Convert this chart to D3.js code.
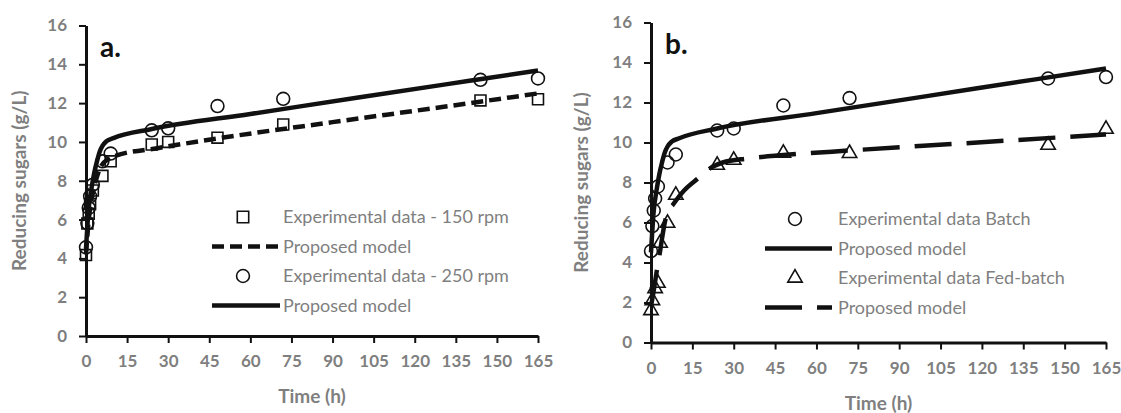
<!DOCTYPE html>
<html>
<head>
<meta charset="utf-8">
<script src="https://cdn.jsdelivr.net/npm/d3@7"></script>
<style>
  body { margin: 0; background: #fff; }
  svg { display: block; font-family: Lato, "Open Sans", sans-serif; }
  .tick text { fill: #7f7f7f; font-weight: bold; font-size: 17px; }
  .axis-title { fill: #7f7f7f; font-weight: bold; font-size: 19px; }
  .leg { fill: #7f7f7f; font-size: 18px; }
</style>
</head>
<body>
<svg id="chart" width="1121" height="413"></svg>
<script>
// x ticks and y ticks shared by both panels
var xTicks = [0, 15, 30, 45, 60, 75, 90, 105, 120, 135, 150, 165];
var yTicks = [0, 2, 4, 6, 8, 10, 12, 14, 16];

// panel a: experimental points
var timeA = [0, 0.5, 1, 1.5, 2.5, 6, 9, 24, 30, 48, 72, 144, 165];
var rpm150 = [4.17, 5.8, 6.3, 6.8, 7.5, 8.25, 9.0, 9.87, 10.0, 10.22, 10.9, 12.14, 12.2];
var rpm250 = [4.57, 5.82, 6.6, 7.2, 7.8, 9.0, 9.4, 10.6, 10.7, 11.85, 12.22, 13.2, 13.27];

// panel a: model curves (time, value)
var model150T = [0, 1, 2, 3, 4, 5, 6, 8, 10, 27, 49, 90, 130, 165];
var model150Y = [4.2, 6.0, 7.0, 7.7, 8.2, 8.6, 8.85, 9.1, 9.25, 9.7, 10.2, 11.02, 11.8, 12.5];
var model250T = [0, 1, 2, 3, 4, 5, 6, 7.5, 10, 24, 60, 100, 140, 165];
var model250Y = [4.5, 6.6, 7.6, 8.4, 9.0, 9.5, 9.8, 10.04, 10.2, 10.67, 11.44, 12.3, 13.15, 13.68];

// panel b: experimental points
var timeBatch = [0, 0.5, 1, 1.5, 2.5, 6, 9, 24, 30, 48, 72, 144, 165];
var batch = [4.57, 5.82, 6.6, 7.2, 7.8, 9.0, 9.4, 10.6, 10.7, 11.85, 12.22, 13.2, 13.27];
var timeFed = [0, 0.5, 1.5, 2.5, 3.3, 6, 9, 24, 30, 48, 72, 144, 165];
var fedBatch = [1.6, 2.1, 2.7, 2.97, 4.97, 5.97, 7.37, 8.87, 9.12, 9.47, 9.46, 9.87, 10.67];

// panel b: model curves
var modelBatchT = [0, 1, 2, 3, 4, 5, 6, 7.5, 10, 24, 60, 100, 140, 165];
var modelBatchY = [4.5, 6.6, 7.6, 8.4, 9.0, 9.5, 9.8, 10.04, 10.2, 10.7, 11.47, 12.32, 13.17, 13.7];
var modelFedT = [0, 1, 2, 3, 4, 5, 6, 8, 12, 17, 22.5, 26, 35, 48, 72, 110, 165];
var modelFedY = [1.8, 2.6, 3.5, 4.3, 5.2, 6.0, 6.5, 6.9, 7.6, 8.2, 8.8, 9.0, 9.2, 9.37, 9.6, 9.93, 10.4];

var svg = d3.select("#chart");

function zipPts(t, v) {
	return t.map(function(d, i) { return [d, v[i]]; });
}

function drawPanel(p) {
	var x = d3.scaleLinear().domain([0, 165]).range([p.x0, p.x1]);
	var y = d3.scaleLinear().domain([0, 16]).range([p.y0, p.y1]);
	var g = svg.append("g");

	var ax = g.append("g")
		.attr("transform", "translate(0," + p.y0 + ")")
		.call(d3.axisBottom(x).tickValues(xTicks).tickSize(7).tickSizeOuter(0).tickPadding(12));
	var ay = g.append("g")
		.attr("transform", "translate(" + p.x0 + ",0)")
		.call(d3.axisLeft(y).tickValues(yTicks).tickSize(7).tickSizeOuter(0).tickPadding(12));
	[ax, ay].forEach(function(a) {
		a.select(".domain").attr("stroke", "#111").attr("stroke-width", 3);
		a.selectAll(".tick line").attr("stroke", "#111").attr("stroke-width", 2);
		a.selectAll(".tick text").style("font-family", "Lato, sans-serif");
	});

	// axis titles
	g.append("text").attr("class", "axis-title")
		.attr("x", (p.x0 + p.x1) / 2).attr("y", p.y0 + 67)
		.attr("text-anchor", "middle").text("Time (h)");
	g.append("text").attr("class", "axis-title")
		.attr("transform", "translate(" + p.ytx + "," + ((p.y0 + p.y1) / 2) + ") rotate(-90)")
		.attr("text-anchor", "middle").attr("dy", "0.35em").text("Reducing sugars (g/L)");

	// panel letter
	g.append("text").attr("x", p.x0 + 14).attr("y", p.y1 + 31)
		.style("font-size", "28px").style("font-weight", "bold").attr("fill", "#111")
		.text(p.letter);

	var line = d3.line()
		.x(function(d) { return x(d[0]); })
		.y(function(d) { return y(d[1]); })
		.curve(d3.curveMonotoneX);

	p.models.forEach(function(m) {
		g.append("path")
			.datum(zipPts(m.t, m.v))
			.attr("d", line)
			.attr("fill", "none")
			.attr("stroke", "#111")
			.attr("stroke-width", 4.5)
			.attr("stroke-dasharray", m.dash || null);
	});

	p.series.forEach(function(s) {
		g.selectAll(null)
			.data(zipPts(s.t, s.v))
			.enter().append("path")
			.attr("transform", function(d) { return "translate(" + x(d[0]) + "," + y(d[1]) + ")"; })
			.attr("d", d3.symbol().type(s.shape).size(s.size))
			.attr("fill", "none")
			.attr("stroke", "#111")
			.attr("stroke-width", 1.6);
	});

	// legend
	p.legend.forEach(function(item, i) {
		var ly = p.ly + i * 29.5;
		if (item.shape) {
			g.append("path")
				.attr("transform", "translate(" + p.lmx + "," + ly + ")")
				.attr("d", d3.symbol().type(item.shape).size(item.size))
				.attr("fill", "none").attr("stroke", "#111").attr("stroke-width", 1.6);
		} else {
			g.append("line")
				.attr("x1", p.llx0).attr("x2", p.llx1).attr("y1", ly).attr("y2", ly)
				.attr("stroke", "#111").attr("stroke-width", 4.5)
				.attr("stroke-dasharray", item.dash || null);
		}
		g.append("text").attr("class", "leg")
			.attr("x", p.ltx).attr("y", ly).attr("dy", "0.35em")
			.text(item.label);
	});
}

drawPanel({
	x0: 86, x1: 538, y0: 336, y1: 25.5, ytx: 19, letter: "a.",
	models: [
		{ t: model150T, v: model150Y, dash: "12,6" },
		{ t: model250T, v: model250Y }
	],
	series: [
		{ t: timeA, v: rpm150, shape: d3.symbolSquare, size: 120 },
		{ t: timeA, v: rpm250, shape: d3.symbolCircle, size: 130 }
	],
	ly: 217, lmx: 243, llx0: 212, llx1: 280, ltx: 283,
	legend: [
		{ shape: d3.symbolSquare, size: 130, label: "Experimental data - 150 rpm" },
		{ dash: "12,6", label: "Proposed model" },
		{ shape: d3.symbolCircle, size: 130, label: "Experimental data - 250 rpm" },
		{ label: "Proposed model" }
	]
});

drawPanel({
	x0: 651, x1: 1106, y0: 342.5, y1: 22.5, ytx: 581, letter: "b.",
	models: [
		{ t: modelBatchT, v: modelBatchY },
		{ t: modelFedT, v: modelFedY, dash: "37,15" }
	],
	series: [
		{ t: timeBatch, v: batch, shape: d3.symbolCircle, size: 130 },
		{ t: timeFed, v: fedBatch, shape: d3.symbolTriangle, size: 90 }
	],
	ly: 219, lmx: 795, llx0: 765, llx1: 832, ltx: 838,
	legend: [
		{ shape: d3.symbolCircle, size: 130, label: "Experimental data Batch" },
		{ label: "Proposed model" },
		{ shape: d3.symbolTriangle, size: 90, label: "Experimental data Fed-batch" },
		{ dash: "37,15", label: "Proposed model" }
	]
});
</script>
</body>
</html>
